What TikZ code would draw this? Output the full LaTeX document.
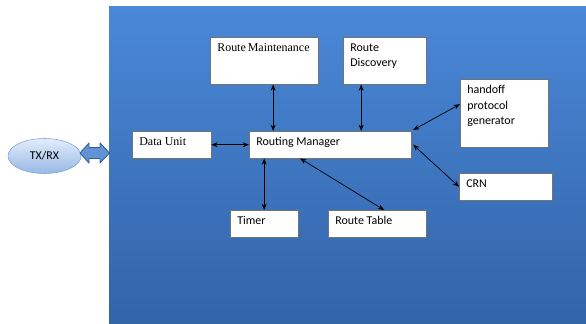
\documentclass[tikz,border=0pt]{standalone}
\usepackage{fontspec}
\setmainfont{Carlito}
\newfontfamily\timesfam{Liberation Serif}
\usetikzlibrary{calc,arrows.meta,shapes.geometric}

\definecolor{paneltop}{HTML}{4A88D8}
\definecolor{panelbot}{HTML}{3264A8}
\definecolor{ovaltop}{HTML}{E2EDFA}
\definecolor{ovalbot}{HTML}{98B8E6}
\definecolor{ovalline}{HTML}{7FA3D8}
\definecolor{arrfill}{HTML}{5F93D3}
\definecolor{arrline}{HTML}{2F5C9E}

% text of a white box: width, height, text (top left)
\newcommand{\cell}[3]{\parbox[t][\dimexpr#2-9pt\relax][t]{\dimexpr#1-10pt\relax}{#3}}

\tikzset{
  blk/.style={draw=black!55, fill=white, anchor=north west,
    inner xsep=5pt, inner ysep=4.5pt, font=\fontsize{8.5}{11}\selectfont},
  link/.style={{Stealth[length=4.5pt,width=3.5pt]}-{Stealth[length=4.5pt,width=3.5pt]}, line width=0.5pt}
}

\begin{document}
\begin{tikzpicture}[x=0.025cm, y=-0.025cm]

  \useasboundingbox (0,0) rectangle (586,323);

  % panel
  \shade[top color=paneltop, bottom color=panelbot] (109,6) rectangle (586,323);

  % outside
  \node[ellipse, draw=ovalline, top color=ovaltop, bottom color=ovalbot,
    minimum width=73*0.025cm, minimum height=35*0.025cm, inner sep=0pt,
    font=\fontsize{8.5}{10}\selectfont] (trx) at (44.5,156) {TX/RX};
  % block arrow into the panel
  \draw[arrline, fill=arrfill, line width=0.6pt, line join=round]
    (80,153) -- (89,143) -- (89,147.5) -- (100,147.5) -- (100,143) -- (109.5,153)
    -- (100,163) -- (100,158.5) -- (89,158.5) -- (89,163) -- cycle;

  % blocks
  \node[blk] (rm)    at (210,37)  {\cell{76.6pt}{33.3pt}{\timesfam Route\,Maintenance}};
  \node[blk] (rd)    at (343,37)  {\cell{58.9pt}{33.3pt}{Route\\Discovery}};
  \node[blk] (du)    at (132,131) {\cell{56pt}{19.1pt}{\timesfam Data Unit}};
  \node[blk] (mgr)   at (249,131) {\cell{114.9pt}{19.1pt}{Routing Manager}};
  \node[blk] (ho)    at (460,79)  {\cell{62.4pt}{48.2pt}{handoff\\protocol\\generator}};
  \node[blk] (crn)   at (459,173) {\cell{65.9pt}{19.1pt}{CRN}};
  \node[blk] (timer) at (230,210) {\cell{48.2pt}{19.1pt}{Timer}};
  \node[blk] (rt)    at (328,210) {\cell{69.5pt}{19.1pt}{Route Table}};

  % links
  \draw[link] ($(rm.south)+(9,0)$) coordinate (rmx) -- (rmx |- mgr.north);
  \draw[link] ($(rd.south)+(-23.5,0)$) coordinate (rdx) -- (rdx |- mgr.north);
  \draw[link] (du.east) -- (mgr.west);
  \draw[link] ($(mgr.north east)+(2,-1)$) -- ($(ho.west)+(0,-9)$);
  \draw[link] ($(mgr.east)+(2,0)$) -- (crn.west);
  \draw[link] (timer.north) -- (timer.north |- mgr.south);
  \draw[link] ($(mgr.south)+(-30,0)$) -- ($(rt.north)+(7,0)$);

\end{tikzpicture}
\end{document}
